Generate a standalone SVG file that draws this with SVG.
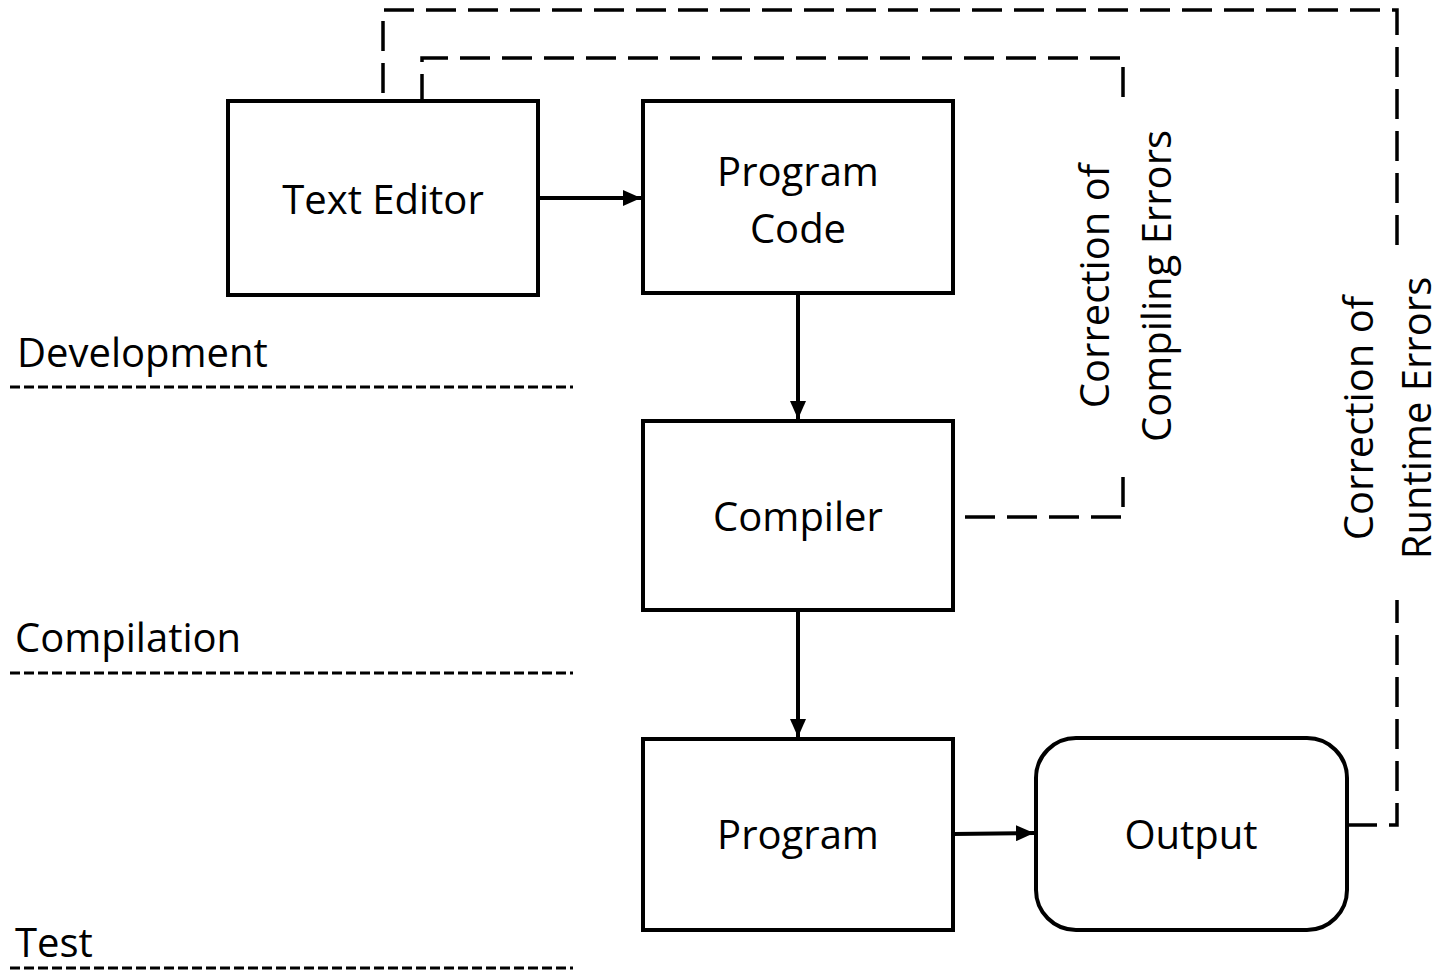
<svg xmlns="http://www.w3.org/2000/svg" width="1444" height="980" viewBox="0 0 1444 980">
<defs>
<marker id="ah" markerWidth="4.5" markerHeight="4" refX="4.5" refY="2" orient="auto" markerUnits="strokeWidth">
<path d="M0,0 L4.5,2 L0,4 Z" fill="#000"/>
</marker>
<style>
.box{fill:#fff;stroke:#000;stroke-width:4}
.lbl{font-family:"Open Sans","Noto Sans",sans-serif;font-size:40px;fill:#000}
.mid{text-anchor:middle}
.arrow{stroke:#000;stroke-width:4;fill:none;marker-end:url(#ah)}
.fb{stroke:#000;stroke-width:3.5;fill:none;stroke-dasharray:30 12}
.phase{stroke:#000;stroke-width:3;stroke-dasharray:10 4}
</style>
</defs>
<rect width="1444" height="980" fill="#fff"/>
<g id="phases">
<text class="lbl" x="17" y="367">Development</text>
<line class="phase" x1="10" y1="387" x2="573" y2="387"/>
<text class="lbl" x="15" y="652">Compilation</text>
<line class="phase" x1="10" y1="673" x2="573" y2="673"/>
<text class="lbl" x="15" y="957">Test</text>
<line class="phase" x1="10" y1="968" x2="573" y2="968"/>
</g>
<g id="connectors">
<line class="arrow" x1="538" y1="198" x2="641" y2="198"/>
<line class="arrow" x1="798" y1="293" x2="798" y2="419"/>
<line class="arrow" x1="798" y1="610" x2="798" y2="737"/>
<line class="arrow" x1="953" y1="834" x2="1034" y2="833"/>
<path class="fb" d="M1347,825 L1397,825 L1397,600"/>
<path class="fb" d="M1397,245 L1397,10 L383,10 L383,99"/>
<path class="fb" d="M965,517 L1123,517 L1123,470"/>
<path class="fb" d="M1123,97 L1123,58 L422,58 L422,101"/>
<text class="lbl mid" transform="translate(1126,286) rotate(-90)"><tspan x="0" y="-17">Correction of</tspan><tspan x="0" y="45">Compiling Errors</tspan></text>
<text class="lbl mid" transform="translate(1390,418) rotate(-90)"><tspan x="0" y="-17">Correction of</tspan><tspan x="0" y="41">Runtime Errors</tspan></text>
</g>
<g id="text-editor">
<rect class="box" x="228" y="101" width="310" height="194"/>
<text class="lbl mid" x="383" y="214">Text Editor</text>
</g>
<g id="program-code">
<rect class="box" x="643" y="101" width="310" height="192"/>
<text class="lbl mid" x="798" y="186">Program</text>
<text class="lbl mid" x="798" y="243">Code</text>
</g>
<g id="compiler">
<rect class="box" x="643" y="421" width="310" height="189"/>
<text class="lbl mid" x="798" y="531">Compiler</text>
</g>
<g id="program">
<rect class="box" x="643" y="739" width="310" height="191"/>
<text class="lbl mid" x="798" y="849">Program</text>
</g>
<g id="output">
<rect class="box" x="1036" y="738" width="311" height="192" rx="40" ry="40"/>
<text class="lbl mid" x="1191" y="849">Output</text>
</g>
</svg>
